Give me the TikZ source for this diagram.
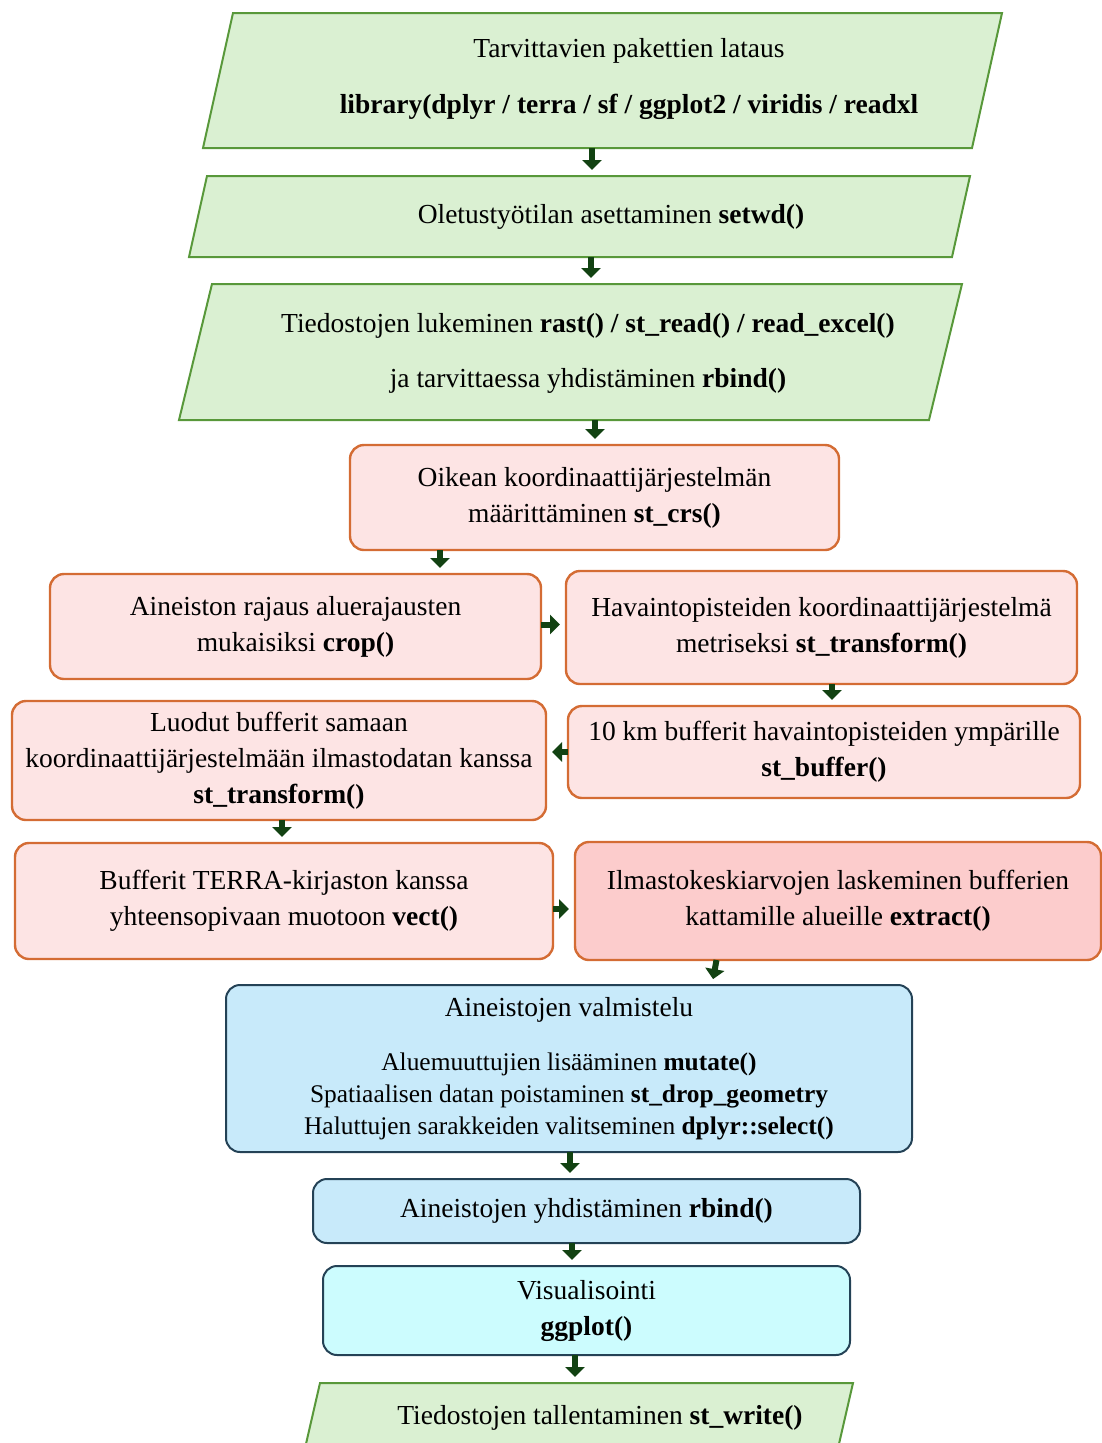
\documentclass[tikz,border=0pt]{standalone}
\usepackage{fontspec}
\setmainfont{Liberation Serif}
\usetikzlibrary{arrows.meta,calc}

\definecolor{grnfill}{RGB}{218,240,210}
\definecolor{grnline}{RGB}{88,152,58}
\definecolor{pinkfill}{RGB}{253,228,228}
\definecolor{pinkdeep}{RGB}{252,204,204}
\definecolor{pinkline}{RGB}{212,108,52}
\definecolor{bluefill}{RGB}{200,234,250}
\definecolor{cyanfill}{RGB}{204,252,254}
\definecolor{blueline}{RGB}{36,66,86}
\definecolor{flowgreen}{RGB}{18,66,18}

% parallelogram drawn around an invisible frame node: #1 frame, #2 half slant
\newcommand\slantframe[2]{%
  \draw[parashape] ([xshift=#2]#1.north west) -- ([xshift=#2]#1.north east)
    -- ([xshift=-#2]#1.south east) -- ([xshift=-#2]#1.south west) -- cycle;}
% smaller type for the detail lines of the preparation step
\newcommand\detailsize{\fontsize{25.4}{32}\selectfont}

\tikzset{
  frame/.style={draw=none, fill=none, inner sep=0pt, outer sep=0pt},
  parashape/.style={draw=grnline, fill=grnfill, line width=2pt, line join=miter},
  txt/.style={align=center, inner sep=0pt},
  stepbox/.style={rounded corners=14pt, line width=2.4pt, align=center,
    inner sep=0pt, outer sep=0pt},
  pinkbox/.style={stepbox, draw=pinkline, fill=pinkfill},
  deepbox/.style={stepbox, draw=pinkline, fill=pinkdeep},
  bluebox/.style={stepbox, draw=blueline, fill=bluefill, line width=2pt},
  cyanbox/.style={stepbox, draw=blueline, fill=cyanfill, line width=2pt},
  flow/.style={draw=flowgreen, line width=6pt,
    -{Triangle[width=19pt,length=10pt]}, shorten >=6pt},
}

\begin{document}
\begin{tikzpicture}[x=1pt, y=-1pt, font=\fontsize{27.5}{36}\selectfont]
\useasboundingbox (0,0) rectangle (1102,1443);
\clip (0,0) rectangle (1102,1443);

% green input / output steps
\node[frame, minimum width=769pt, minimum height=135pt] (p1) at (602.5,80.5) {};
\slantframe{p1}{15pt}
\node[txt] (t1) at (629,79) {Tarvittavien pakettien lataus\\[20pt]
  \textbf{library(dplyr / terra / sf / ggplot2 / viridis / readxl}};

\node[frame, minimum width=763pt, minimum height=81pt] (p2) at (579.5,216.5) {};
\slantframe{p2}{9pt}
\node[txt] (t2) at (611,217) {Oletustyötilan asettaminen \textbf{setwd()}};

\node[frame, minimum width=750pt, minimum height=136pt] (p3) at (570.5,352) {};
\slantframe{p3}{16.5pt}
\node[txt] (t3) at (588,353) {Tiedostojen lukeminen \textbf{rast() / st\_read() / read\_excel()}\\[19pt]
  ja tarvittaessa yhdistäminen \textbf{rbind()}};

% processing steps
\node[pinkbox, minimum width=489pt, minimum height=105pt] (b1) at (594.5,497.5)
  {Oikean koordinaattijärjestelmän\\määrittäminen \textbf{st\_crs()}};
\node[pinkbox, minimum width=491pt, minimum height=105pt] (b2) at (295.5,626.5)
  {Aineiston rajaus aluerajausten\\mukaisiksi \textbf{crop()}};
\node[pinkbox, minimum width=511pt, minimum height=113pt] (b3) at (821.5,627.5)
  {Havaintopisteiden koordinaattijärjestelmä\\metriseksi \textbf{st\_transform()}};
\node[pinkbox, minimum width=534pt, minimum height=119pt] (b4) at (279,760.5)
  {Luodut bufferit samaan\\koordinaattijärjestelmään ilmastodatan kanssa\\\textbf{st\_transform()}};
\node[pinkbox, minimum width=512pt, minimum height=92pt] (b5) at (824,752)
  {10 km bufferit havaintopisteiden ympärille\\\textbf{st\_buffer()}};
\node[pinkbox, minimum width=538pt, minimum height=116pt] (b6) at (284,901)
  {Bufferit TERRA-kirjaston kanssa\\yhteensopivaan muotoon \textbf{vect()}};
\node[deepbox, minimum width=526pt, minimum height=118pt] (b7) at (838,901)
  {Ilmastokeskiarvojen laskeminen bufferien\\kattamille alueille \textbf{extract()}};

% data preparation and output
\node[bluebox, minimum width=686pt, minimum height=167pt] (b8) at (569,1068.5)
  {Aineistojen valmistelu\\[18pt]
   \detailsize Aluemuuttujien lisääminen \textbf{mutate()}\\[-4pt]
   \detailsize Spatiaalisen datan poistaminen \textbf{st\_drop\_geometry}\\[-4pt]
   \detailsize Haluttujen sarakkeiden valitseminen \textbf{dplyr::select()}};
\node[bluebox, minimum width=547pt, minimum height=64pt] (b9) at (586.5,1211)
  {Aineistojen yhdistäminen \textbf{rbind()}};
\node[cyanbox, minimum width=527pt, minimum height=89pt] (b10) at (586.5,1310.5)
  {Visualisointi\\\textbf{ggplot()}};

\node[frame, minimum width=533pt, minimum height=100pt] (p4) at (575,1433) {};
\slantframe{p4}{11.5pt}
\node[txt] (t4) at (600,1418) {Tiedostojen tallentaminen \textbf{st\_write()}};

% connectors
\draw[flow] ([xshift=-10.5pt]p1.south) -- ([xshift=-10.5pt]p1.south |- p2.north);
\draw[flow] ([xshift=11.5pt]p2.south) -- ([xshift=11.5pt]p2.south |- p3.north);
\draw[flow] ([xshift=24.5pt]p3.south) -- ([xshift=24.5pt]p3.south |- b1.north);
\draw[flow] ([xshift=-154.5pt]b1.south) -- ([xshift=-154.5pt]b1.south |- b2.north);
\draw[flow] ([yshift=2pt]b2.east) -- ([yshift=2pt]b2.east -| b3.west);
\draw[flow] ([xshift=10.5pt]b3.south) -- ([xshift=10.5pt]b3.south |- b5.north);
\draw[flow] (b5.west) -- (b5.west -| b4.east);
\draw[flow] ([xshift=3pt]b4.south) -- ([xshift=3pt]b4.south |- b6.north);
\draw[flow] ([yshift=-8pt]b6.east) -- ([yshift=-8pt]b6.east -| b7.west);
\draw[flow] ([xshift=-121.5pt]b7.south) -- ([xshift=143pt]b8.north);
\draw[flow] ([xshift=1pt]b8.south) -- ([xshift=1pt]b8.south |- b9.north);
\draw[flow] ([xshift=-14.5pt]b9.south) -- ([xshift=-14.5pt]b9.south |- b10.north);
\draw[flow] ([xshift=-11.5pt]b10.south) -- ([xshift=-11.5pt]b10.south |- p4.north);
\end{tikzpicture}
\end{document}
